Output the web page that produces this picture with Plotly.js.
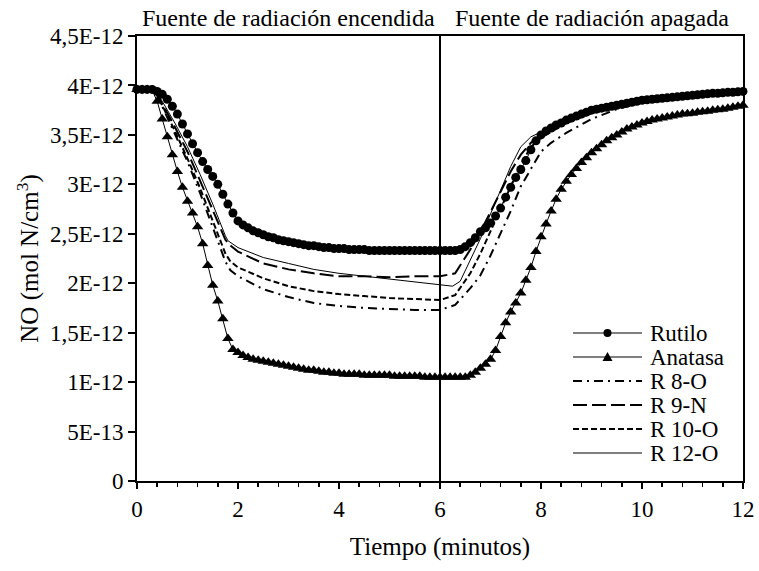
<!DOCTYPE html>
<html>
<head>
<meta charset="utf-8">
<script src="https://cdn.plot.ly/plotly-3.0.1.min.js"></script>
<style>
  html, body { margin: 0; padding: 0; background: #fff; }
  #chart { width: 759px; height: 571px; }
</style>
</head>
<body>
<div id="chart"></div>
<script>
// NO concentration (in units of 1E-12 mol N/cm3) versus time in minutes.
// Rutilo and Anatasa are sampled every 0.1 min (0 .. 12).
const SCALE = 1e-12;
const tiempo = Array.from({ length: 121 }, (_, i) => i / 10);

const rutilo = [
  3.96, 3.96, 3.96, 3.96, 3.94, 3.91, 3.86, 3.79, 3.71, 3.61,
  3.51, 3.41, 3.32, 3.23, 3.15, 3.08, 3.00, 2.90, 2.80, 2.71,
  2.63, 2.59, 2.56, 2.53, 2.51, 2.49, 2.47, 2.46, 2.44, 2.43,
  2.42, 2.41, 2.40, 2.39, 2.38, 2.38, 2.37, 2.36, 2.36, 2.35,
  2.35, 2.35, 2.34, 2.34, 2.34, 2.34, 2.33, 2.33, 2.33, 2.33,
  2.33, 2.33, 2.33, 2.33, 2.33, 2.33, 2.33, 2.33, 2.33, 2.33,
  2.33, 2.33, 2.33, 2.33, 2.34, 2.37, 2.41, 2.46, 2.52, 2.56,
  2.61, 2.68, 2.76, 2.87, 2.97, 3.07, 3.15, 3.24, 3.35, 3.44,
  3.50, 3.54, 3.57, 3.60, 3.62, 3.65, 3.67, 3.69, 3.71, 3.73,
  3.75, 3.76, 3.77, 3.78, 3.79, 3.80, 3.81, 3.82, 3.83, 3.84,
  3.85, 3.855, 3.86, 3.865, 3.87, 3.875, 3.88, 3.885, 3.89, 3.895,
  3.90, 3.905, 3.91, 3.915, 3.92, 3.92, 3.925, 3.93, 3.93, 3.935,
  3.94
];

const anatasa = [
  3.96, 3.96, 3.96, 3.95, 3.84, 3.66, 3.48, 3.30, 3.13, 2.97,
  2.83, 2.71, 2.57, 2.40, 2.18, 1.98, 1.82, 1.64, 1.44, 1.33,
  1.30, 1.27, 1.25, 1.23, 1.22, 1.21, 1.20, 1.19, 1.18, 1.17,
  1.16, 1.15, 1.14, 1.13, 1.12, 1.12, 1.11, 1.10, 1.10, 1.09,
  1.09, 1.08, 1.08, 1.08, 1.08, 1.07, 1.07, 1.07, 1.07, 1.07,
  1.07, 1.06, 1.06, 1.06, 1.06, 1.06, 1.06, 1.05, 1.05, 1.05,
  1.05, 1.05, 1.05, 1.05, 1.05, 1.05, 1.07, 1.10, 1.14, 1.18,
  1.23, 1.32, 1.46, 1.60, 1.71, 1.80, 1.90, 2.03, 2.16, 2.32,
  2.47, 2.60, 2.73, 2.85, 2.95, 3.03, 3.10, 3.16, 3.22, 3.27,
  3.32, 3.36, 3.40, 3.44, 3.47, 3.50, 3.53, 3.56, 3.58, 3.60,
  3.62, 3.635, 3.65, 3.66, 3.67, 3.68, 3.69, 3.70, 3.71, 3.715,
  3.72, 3.73, 3.735, 3.74, 3.75, 3.755, 3.76, 3.77, 3.78, 3.79,
  3.80
];

// Membrane samples (line only)
const tR8O = [0, 0.3, 0.4, 0.5, 0.75, 1.0, 1.25, 1.5, 1.75, 1.85, 2.0, 2.5, 3.0, 3.5, 4.0, 4.5, 5.0, 5.5, 6.0, 6.3, 6.6, 6.8, 7.0, 7.2, 7.4, 7.6, 7.8, 8.0, 8.2, 8.5, 9.0, 9.5, 10, 11, 12];
const r8O  = [3.96, 3.95, 3.90, 3.79, 3.52, 3.23, 2.91, 2.56, 2.22, 2.13, 2.07, 1.94, 1.86, 1.80, 1.77, 1.75, 1.74, 1.73, 1.73, 1.78, 1.95, 2.08, 2.28, 2.50, 2.73, 2.98, 3.16, 3.33, 3.42, 3.52, 3.66, 3.76, 3.83, 3.90, 3.94];

const tR9N = [0, 0.3, 0.4, 0.5, 0.75, 1.0, 1.25, 1.5, 1.75, 1.85, 2.0, 2.5, 3.0, 3.5, 4.0, 4.5, 5.0, 5.5, 6.0, 6.3, 6.6, 6.8, 7.0, 7.2, 7.4, 7.6, 7.8, 8.0, 8.5, 9.0, 9.5, 10, 11, 12];
const r9N  = [3.96, 3.95, 3.91, 3.82, 3.58, 3.33, 3.04, 2.74, 2.44, 2.38, 2.32, 2.20, 2.14, 2.10, 2.07, 2.07, 2.06, 2.07, 2.07, 2.10, 2.34, 2.52, 2.72, 2.93, 3.13, 3.30, 3.42, 3.50, 3.62, 3.72, 3.78, 3.83, 3.90, 3.94];

const tR10O = [0, 0.3, 0.4, 0.5, 0.75, 1.0, 1.25, 1.5, 1.75, 1.85, 2.0, 2.5, 3.0, 3.5, 4.0, 4.5, 5.0, 5.5, 6.0, 6.3, 6.6, 6.8, 7.0, 7.2, 7.4, 7.6, 7.8, 8.0, 8.5, 9.0, 9.5, 10, 11, 12];
const r10O  = [3.96, 3.95, 3.90, 3.80, 3.54, 3.26, 2.96, 2.63, 2.30, 2.22, 2.16, 2.05, 1.97, 1.92, 1.89, 1.87, 1.85, 1.84, 1.83, 1.88, 2.10, 2.30, 2.52, 2.75, 2.98, 3.20, 3.38, 3.47, 3.62, 3.72, 3.78, 3.84, 3.90, 3.94];

const tR12O = [0, 0.3, 0.4, 0.5, 0.75, 1.0, 1.25, 1.5, 1.75, 1.8, 2.0, 2.5, 3.0, 3.5, 4.0, 4.5, 5.0, 5.5, 6.0, 6.25, 6.4, 6.6, 6.8, 7.0, 7.2, 7.4, 7.6, 7.8, 8.0, 8.5, 9.0, 9.5, 10, 11, 12];
const r12O  = [3.96, 3.95, 3.92, 3.84, 3.62, 3.38, 3.10, 2.80, 2.48, 2.43, 2.36, 2.26, 2.20, 2.14, 2.10, 2.07, 2.04, 2.01, 1.98, 1.97, 2.02, 2.23, 2.45, 2.70, 2.95, 3.18, 3.38, 3.48, 3.53, 3.65, 3.75, 3.81, 3.86, 3.91, 3.94];

// Moment the radiation source is switched off
const switchTime = 6;

const yTickVals = [0, 0.5, 1, 1.5, 2, 2.5, 3, 3.5, 4, 4.5];
const yTickText = ['0', '5E-13', '1E-12', '1,5E-12', '2E-12', '2,5E-12', '3E-12', '3,5E-12', '4E-12', '4,5E-12'];

const toUnits = arr => arr.map(v => v * SCALE);

const FONT = 'Liberation Serif, Times New Roman, serif';

const series = [
  { name: 'Rutilo',  x: tiempo, y: rutilo,  dash: 'solid', width: 1, symbol: 'circle', msize: 9 },
  { name: 'Anatasa', x: tiempo, y: anatasa, dash: 'solid', width: 1, symbol: 'triangle-up', msize: 10 },
  { name: 'R 8-O',   x: tR8O,  y: r8O,  dash: '9px,5px,2px,5px', width: 2 },
  { name: 'R 9-N',   x: tR9N,  y: r9N,  dash: '14px,5px', width: 2 },
  { name: 'R 10-O',  x: tR10O, y: r10O, dash: '6px,3px', width: 2 },
  { name: 'R 12-O',  x: tR12O, y: r12O, dash: 'solid', width: 1 }
];

const traces = series.map(s => {
  const tr = {
    type: 'scatter',
    mode: s.symbol ? 'lines+markers' : 'lines',
    name: s.name,
    x: s.x,
    y: toUnits(s.y),
    cliponaxis: false,
    line: { color: '#000', width: s.width, dash: s.dash },
    showlegend: false
  };
  if (s.symbol) tr.marker = { symbol: s.symbol, size: s.msize, color: '#000' };
  return tr;
});

// Plot-area geometry (px) used to place the hand-built key
const plotL = 137, plotR = 743, plotT = 36, plotB = 481;
const px2x = p => (p - plotL) / (plotR - plotL);
const px2y = p => (plotB - p) / (plotB - plotT);

const keyLineX0 = 573, keyLineX1 = 642, keyTextX = 648, keyTop = 333, keyStep = 24;

const shapes = [
  { type: 'line', xref: 'x', yref: 'paper', x0: switchTime, x1: switchTime, y0: 0, y1: 1,
    line: { color: '#000', width: 2 } }
];
const annotations = [
  { text: 'Fuente de radiación encendida', xref: 'x', yref: 'paper', x: switchTime / 2, y: 1,
    yanchor: 'bottom', yshift: 3, showarrow: false, font: { family: FONT, size: 24, color: '#000' } },
  { text: 'Fuente de radiación apagada', xref: 'x', yref: 'paper', x: switchTime * 1.5, y: 1,
    yanchor: 'bottom', yshift: 3, showarrow: false, font: { family: FONT, size: 24, color: '#000' } }
];

series.forEach((s, i) => {
  const cy = px2y(keyTop + i * keyStep);
  shapes.push({ type: 'line', xref: 'paper', yref: 'paper',
    x0: px2x(keyLineX0), x1: px2x(keyLineX1), y0: cy, y1: cy,
    line: { color: '#000', width: s.width, dash: s.dash } });
  const cx = px2x((keyLineX0 + keyLineX1) / 2);
  if (s.symbol === 'circle') {
    shapes.push({ type: 'circle', xref: 'paper', yref: 'paper', xsizemode: 'pixel', ysizemode: 'pixel',
      xanchor: cx, yanchor: cy, x0: -4, x1: 4, y0: -4, y1: 4,
      fillcolor: '#000', line: { width: 0 } });
  } else if (s.symbol === 'triangle-up') {
    shapes.push({ type: 'path', xref: 'paper', yref: 'paper', xsizemode: 'pixel', ysizemode: 'pixel',
      xanchor: cx, yanchor: cy, path: 'M-5,-4L5,-4L0,5Z',
      fillcolor: '#000', line: { width: 0 } });
  }
  annotations.push({ text: s.name, xref: 'paper', yref: 'paper', x: px2x(keyTextX), y: cy,
    xanchor: 'left', yanchor: 'middle', showarrow: false, font: { family: FONT, size: 23, color: '#000' } });
});

const layout = {
  width: 759,
  height: 571,
  margin: { l: plotL, r: 759 - plotR, t: plotT, b: 571 - plotB },
  paper_bgcolor: '#fff',
  plot_bgcolor: '#fff',
  font: { family: FONT, size: 23, color: '#000' },
  showlegend: false,
  xaxis: {
    range: [0, 12],
    tick0: 0, dtick: 2,
    ticks: 'outside', ticklen: 6, tickwidth: 2, tickcolor: '#000',
    minor: { dtick: 0.4, ticks: 'outside', ticklen: 4, tickwidth: 1.5, tickcolor: '#000' },
    showline: true, linewidth: 2, linecolor: '#000', mirror: true,
    showgrid: false, zeroline: false,
    tickfont: { family: FONT, size: 23 },
    title: { text: 'Tiempo (minutos)', font: { family: FONT, size: 25 }, standoff: 17 }
  },
  yaxis: {
    range: [0, 4.5 * SCALE],
    tickmode: 'array',
    tickvals: toUnits(yTickVals),
    ticktext: yTickText,
    ticksuffix: '\u2002',
    ticks: 'outside', ticklen: 7, tickwidth: 2, tickcolor: '#000',
    showline: true, linewidth: 2, linecolor: '#000', mirror: true,
    showgrid: false, zeroline: false,
    tickfont: { family: FONT, size: 23 },
    title: { text: 'NO (mol N/cm<sup>3</sup>)', font: { family: FONT, size: 25 }, standoff: 4 }
  },
  shapes: shapes,
  annotations: annotations
};

Plotly.newPlot('chart', traces, layout, { displayModeBar: false, staticPlot: true });
</script>
</body>
</html>
